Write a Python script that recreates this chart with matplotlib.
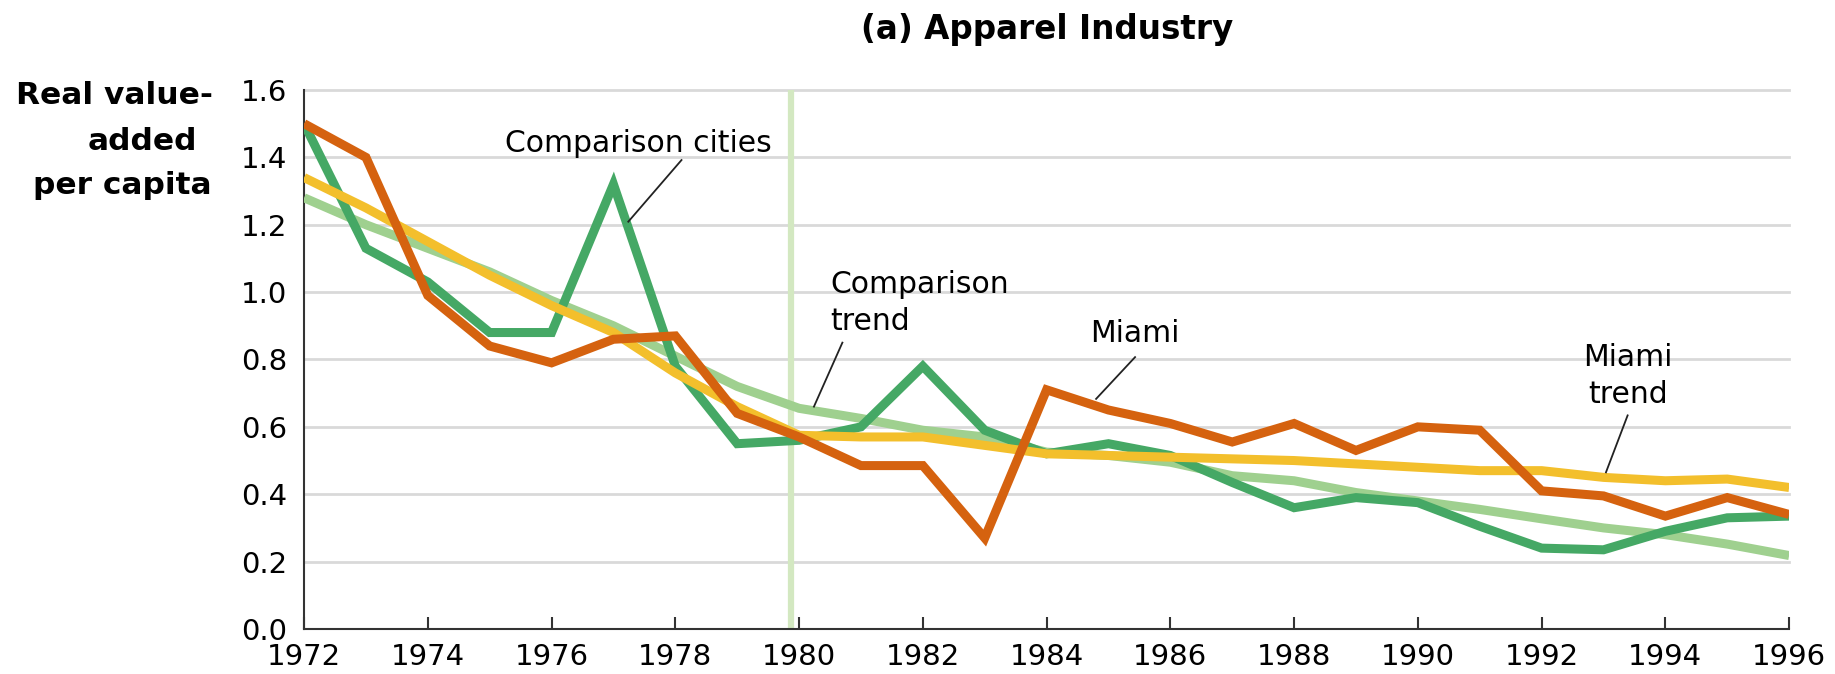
import numpy as np
import matplotlib
matplotlib.use("Agg")
import matplotlib.pyplot as plt

years = np.arange(1972, 1997)

# values
miami = [1.50, 1.40, 0.99, 0.84, 0.79, 0.86, 0.87, 0.64, 0.57, 0.485, 0.485, 0.27,
         0.71, 0.65, 0.61, 0.555, 0.61, 0.53, 0.60, 0.59, 0.41, 0.395, 0.335, 0.39, 0.34]
comparison = [1.50, 1.13, 1.03, 0.88, 0.88, 1.32, 0.78, 0.55, 0.56, 0.60, 0.78, 0.59,
              0.52, 0.55, 0.515, 0.435, 0.36, 0.39, 0.375, 0.305, 0.24, 0.235, 0.29, 0.33, 0.335]
miami_trend = [1.34, 1.25, 1.15, 1.05, 0.96, 0.88, 0.76, 0.66, 0.575, 0.57, 0.57, 0.545,
               0.52, 0.515, 0.51, 0.505, 0.50, 0.49, 0.48, 0.47, 0.47, 0.45, 0.44, 0.445, 0.42]
comparison_trend = [1.28, 1.20, 1.13, 1.06, 0.975, 0.90, 0.81, 0.72, 0.655, 0.625, 0.59, 0.57,
                    0.525, 0.515, 0.495, 0.455, 0.44, 0.405, 0.38, 0.355, 0.327, 0.30, 0.28, 0.252, 0.218]

policy_year = 1979.87
y_ticks = [0.0, 0.2, 0.4, 0.6, 0.8, 1.0, 1.2, 1.4, 1.6]
x_ticks = list(range(1972, 1997, 2))

plt.rcParams['font.family'] = ['DejaVu Sans']

fig = plt.figure(figsize=(18.35, 6.74), dpi=100)
ax = fig.add_axes([0.1657, 0.0668, 0.8093, 0.7997])

for y in y_ticks[1:]:
    ax.axhline(y, color='#d9d9d9', lw=2, zorder=1, clip_on=False)

ax.axvline(policy_year, ymax=1.0, color='#d3e8c1', lw=4.5, zorder=2)

line_kw = dict(lw=6.5, solid_capstyle='butt', solid_joinstyle='miter')
ax.plot(years, comparison_trend, color='#9fd08f', zorder=3, **line_kw)
ax.plot(years, comparison, color='#45a865', zorder=4, **line_kw)
ax.plot(years, miami_trend, color='#f3bf2c', zorder=5, **line_kw)
ax.plot(years, miami, color='#d5620f', zorder=6, **line_kw)

ax.set_xlim(1972, 1996)
ax.set_ylim(0, 1.6)

ax.set_xticks(x_ticks)
ax.set_yticks(y_ticks)
ax.set_yticklabels(['%.1f' % v for v in y_ticks])
ax.tick_params(axis='x', direction='in', length=9, width=1.5, color='#333333',
               labelsize=21, pad=10)
ax.tick_params(axis='y', length=0, labelsize=21, pad=12)

for side in ['top', 'right']:
    ax.spines[side].set_visible(False)
for side in ['left', 'bottom']:
    ax.spines[side].set_color('#333333')
    ax.spines[side].set_linewidth(1.5)

# annotations
fs = 21.5
ax.text(1977.4, 1.415, 'Comparison cities', fontsize=fs, ha='center', va='baseline')
ax.plot([1978.10, 1977.24], [1.392, 1.209], color='#222222', lw=1.3, zorder=7)

ax.text(1980.5, 0.968, 'Comparison\ntrend', fontsize=fs, ha='left', va='center',
        linespacing=1.35)
ax.plot([1980.7, 1980.24], [0.85, 0.66], color='#222222', lw=1.3, zorder=7)

ax.text(1985.43, 0.876, 'Miami', fontsize=fs, ha='center', va='center')
ax.plot([1985.43, 1984.8], [0.807, 0.683], color='#222222', lw=1.3, zorder=7)

ax.text(1993.4, 0.75, 'Miami\ntrend', fontsize=fs, ha='center', va='center',
        multialignment='center', linespacing=1.35)
ax.plot([1993.39, 1993.04], [0.634, 0.465], color='#222222', lw=1.3, zorder=7)

# title and y label
fig.text(1047 / 1835, 1 - 30 / 674, '(a) Apparel Industry', fontsize=23.5,
         fontweight='bold', ha='center', va='center')
ylab = ['Real value-', 'added', 'per capita']
ylab_right = [213, 197, 212]
ylab_base = [104, 150, 194]
for t, xr, yb in zip(ylab, ylab_right, ylab_base):
    fig.text(xr / 1835, 1 - yb / 674, t, fontsize=22.5, fontweight='bold',
             ha='right', va='baseline')

fig.savefig('out.png', dpi=100)
